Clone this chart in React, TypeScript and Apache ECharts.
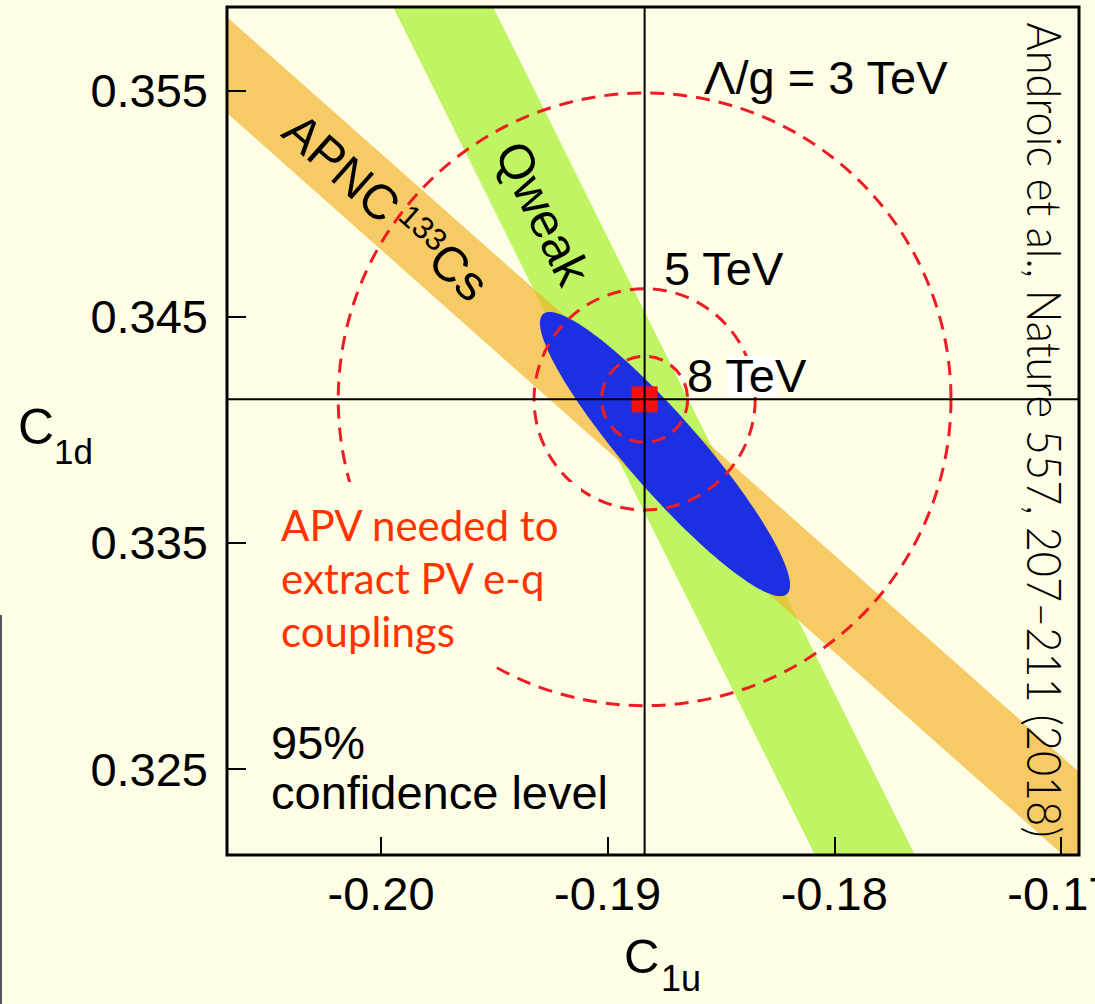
import React, { useEffect, useRef } from "react";
import * as echarts from "echarts";

// ---- axes ----
const xRange = [-0.2068, -0.1692];
const yRange = [0.3212, 0.3587];
const xTicks = [-0.2, -0.19, -0.18, -0.17];
const yTicks = [0.325, 0.335, 0.345, 0.355];

// ---- bands (edges as two points each, data units) ----
const apncUpper = [[-0.2068, 0.35826], [-0.1692, 0.32487]];
const apncLower = [[-0.2068, 0.35401], [-0.1692, 0.32057]];
const qweakLeft = [[-0.19947, 0.3587], [-0.18085, 0.3212]];
const qweakRight = [[-0.19506, 0.3587], [-0.17644, 0.3212]];

// ---- combined fit ellipse (95% CL) ----
const fitCenter = [-0.18747, 0.33893];
const fitMajor = [0.00538, -0.00619];
const fitMinor = [-0.00123, -0.00108];

// ---- Standard Model point and mass-scale circles ----
const smPoint = [-0.18837, 0.34135];
const scaleNames = ["3 TeV", "5 TeV", "8 TeV"];
const scaleRadii = [0.01352, 0.00488, 0.0019];

const BG = "#fefde6";
const ORANGE = "#f6cb66";
const GREEN = "#bff563";
const OVERLAP = "#dfc83c";
const BLUE = "#1c2fe2";
const RED = "#ee1d23";
const GRID = { left: 227, top: 7, width: 852, height: 848 };

const apncPoly = [apncUpper[0], apncUpper[1], apncLower[1], apncLower[0]];
const qweakPoly = [qweakLeft[0], qweakRight[0], qweakRight[1], qweakLeft[1]];

function clipPoly(subject: number[][], clip: number[][]) {
  let area = 0;
  for (let i = 0; i < clip.length; i++) {
    const a = clip[i], b = clip[(i + 1) % clip.length];
    area += a[0] * b[1] - b[0] * a[1];
  }
  const sign = area >= 0 ? 1 : -1;
  let output = subject.slice();
  for (let i = 0; i < clip.length; i++) {
    const a = clip[i], b = clip[(i + 1) % clip.length];
    const inside = (p: number[]) =>
      ((b[0] - a[0]) * (p[1] - a[1]) - (b[1] - a[1]) * (p[0] - a[0])) * sign >= 0;
    const inter = (p: number[], q: number[]) => {
      const d1 = (b[0] - a[0]) * (p[1] - a[1]) - (b[1] - a[1]) * (p[0] - a[0]);
      const d2 = (b[0] - a[0]) * (q[1] - a[1]) - (b[1] - a[1]) * (q[0] - a[0]);
      const t = d1 / (d1 - d2);
      return [p[0] + (q[0] - p[0]) * t, p[1] + (q[1] - p[1]) * t];
    };
    const input = output;
    output = [];
    for (let j = 0; j < input.length; j++) {
      const cur = input[j];
      const prev = input[(j + input.length - 1) % input.length];
      const ci = inside(cur), pi = inside(prev);
      if (ci) {
        if (!pi) output.push(inter(prev, cur));
        output.push(cur);
      } else if (pi) {
        output.push(inter(prev, cur));
      }
    }
    if (!output.length) break;
  }
  return output;
}

function measure(text: string, font: string) {
  const c = document.createElement("canvas").getContext("2d");
  if (!c) return 800;
  c.font = font;
  return c.measureText(text).width;
}

export default function App() {
  const ref = useRef<HTMLDivElement>(null);
  useEffect(() => {
    document.body.style.margin = "0";
    if (!ref.current) return;
    const chart = echarts.init(ref.current, null, { renderer: "svg" });
    const citeText = "Androic et al., Nature 557, 207–211 (2018)";
    const citeFont = "300 48px Lato";
    const citeScale = 815 / measure(citeText, citeFont);

    const polyItem = (pts: number[][], color: string, z: number) => ({
      type: "custom",
      coordinateSystem: "cartesian2d",
      clip: true,
      silent: true,
      z,
      data: [fitCenter],
      renderItem: (_p: any, api: any) => ({
        type: "polygon",
        shape: { points: pts.map((p) => api.coord(p)) },
        style: { fill: color },
      }),
    });

    const option: any = {
      animation: false,
      backgroundColor: BG,
      grid: { ...GRID, containLabel: false, outerBoundsMode: "none" },
      tooltip: { show: false },
      xAxis: {
        type: "value",
        min: xRange[0],
        max: xRange[1],
        z: 10,
        axisLine: { show: false },
        splitLine: { show: false },
        axisTick: {
          show: true,
          inside: true,
          length: 18,
          customValues: xTicks,
          lineStyle: { color: "#000", width: 2 },
        },
        axisLabel: {
          customValues: xTicks,
          formatter: (v: number) => v.toFixed(2),
          fontFamily: "Liberation Sans",
          fontSize: 47,
          color: "#000",
          margin: 15,
        },
      },
      yAxis: {
        type: "value",
        min: yRange[0],
        max: yRange[1],
        z: 10,
        axisLine: { show: false },
        splitLine: { show: false },
        axisTick: {
          show: true,
          inside: true,
          length: 19,
          customValues: yTicks,
          lineStyle: { color: "#000", width: 2 },
        },
        axisLabel: {
          customValues: yTicks,
          formatter: (v: number) => v.toFixed(3),
          fontFamily: "Liberation Sans",
          fontSize: 47,
          color: "#000",
          margin: 19,
        },
      },
      series: [
        polyItem(apncPoly, ORANGE, 1),
        polyItem(qweakPoly, GREEN, 1),
        {
          type: "custom",
          coordinateSystem: "cartesian2d",
          clip: true,
          silent: true,
          z: 1,
          data: [fitCenter],
          renderItem: (_p: any, api: any) => {
            const a = apncPoly.map((p) => api.coord(p));
            const q = qweakPoly.map((p) => api.coord(p));
            const pts = clipPoly(a, q);
            return { type: "polygon", shape: { points: pts }, style: { fill: OVERLAP } };
          },
        },
        {
          type: "custom",
          coordinateSystem: "cartesian2d",
          clip: true,
          silent: true,
          z: 2,
          data: [fitCenter],
          renderItem: (_p: any, api: any) => {
            const c = api.coord(fitCenter);
            const a = api.coord([fitCenter[0] + fitMajor[0], fitCenter[1] + fitMajor[1]]);
            const b = api.coord([fitCenter[0] + fitMinor[0], fitCenter[1] + fitMinor[1]]);
            const M = [a[0] - c[0], a[1] - c[1]];
            const m = [b[0] - c[0], b[1] - c[1]];
            const pts: number[][] = [];
            const n = 160;
            for (let k = 0; k < n; k++) {
              const t = (2 * Math.PI * k) / n;
              pts.push([
                c[0] + Math.cos(t) * M[0] + Math.sin(t) * m[0],
                c[1] + Math.cos(t) * M[1] + Math.sin(t) * m[1],
              ]);
            }
            return { type: "polygon", shape: { points: pts }, style: { fill: BLUE } };
          },
        },
        {
          type: "custom",
          name: "scales",
          coordinateSystem: "cartesian2d",
          clip: true,
          silent: true,
          z: 3,
          data: scaleRadii.map((r, i) => ({ name: scaleNames[i], value: [smPoint[0], smPoint[1], r] })),
          renderItem: (_p: any, api: any) => {
            const c = api.coord([api.value(0), api.value(1)]);
            const r = api.size([api.value(2), 0])[0];
            return {
              type: "circle",
              shape: { cx: c[0], cy: c[1], r },
              style: { fill: "none", stroke: RED, lineWidth: 3, lineDash: [14, 9] },
            };
          },
        },
        {
          type: "scatter",
          z: 4,
          silent: true,
          symbol: "rect",
          symbolSize: 26,
          itemStyle: { color: "#ef1111", opacity: 1 },
          data: [smPoint],
        },
        {
          type: "custom",
          coordinateSystem: "cartesian2d",
          clip: true,
          silent: true,
          z: 6,
          data: [smPoint],
          renderItem: (_p: any, api: any) => {
            const v0 = api.coord([smPoint[0], yRange[0]]);
            const v1 = api.coord([smPoint[0], yRange[1]]);
            const h0 = api.coord([xRange[0], smPoint[1]]);
            const h1 = api.coord([xRange[1], smPoint[1]]);
            return {
              type: "group",
              children: [
                { type: "line", shape: { x1: v0[0], y1: v0[1], x2: v1[0], y2: v1[1] }, style: { stroke: "#000", lineWidth: 2 } },
                { type: "line", shape: { x1: h0[0], y1: h0[1], x2: h1[0], y2: h1[1] }, style: { stroke: "#000", lineWidth: 2 } },
              ],
            };
          },
        },
      ],
      graphic: {
        elements: [
          // white patch behind "TeV" of 8 TeV
          { type: "rect", silent: true, z: 4, shape: { x: 728, y: 356, width: 49, height: 41 }, style: { fill: "#ffffff" } },
          // frame
          { type: "rect", silent: true, z: 20, shape: { x: GRID.left, y: GRID.top, width: GRID.width, height: GRID.height }, style: { fill: "none", stroke: "#000", lineWidth: 3 } },
          // left edge gray line
          { type: "line", silent: true, z: 20, shape: { x1: 1, y1: 615, x2: 1, y2: 1004 }, style: { stroke: "#555", lineWidth: 2 } },
          // APV box
          { type: "rect", silent: true, z: 25, shape: { x: 270, y: 482, width: 311, height: 184 }, style: { fill: BG } },
          { type: "text", silent: true, z: 30, x: 281, y: 525, style: { text: "APV needed to", font: "42px Lato", fill: "#ff3300", align: "left", verticalAlign: "middle" } },
          { type: "text", silent: true, z: 30, x: 281, y: 578, style: { text: "extract PV e-q", font: "42px Lato", fill: "#ff3300", align: "left", verticalAlign: "middle" } },
          { type: "text", silent: true, z: 30, x: 281, y: 631, style: { text: "couplings", font: "42px Lato", fill: "#ff3300", align: "left", verticalAlign: "middle" } },
          // scale labels
          { type: "text", silent: true, z: 30, x: 704, y: 77, style: { text: "Λ/g = " + scaleNames[0], font: "47px 'Liberation Sans'", fill: "#000", align: "left", verticalAlign: "middle" } },
          { type: "text", silent: true, z: 30, x: 664, y: 268, style: { text: scaleNames[1], font: "47px 'Liberation Sans'", fill: "#000", align: "left", verticalAlign: "middle" } },
          { type: "text", silent: true, z: 30, x: 687, y: 375, style: { text: scaleNames[2], font: "47px 'Liberation Sans'", fill: "#000", align: "left", verticalAlign: "middle" } },
          // CL label
          { type: "text", silent: true, z: 30, x: 271, y: 742, style: { text: "95%", font: "47px 'Liberation Sans'", fill: "#000", align: "left", verticalAlign: "middle" } },
          { type: "text", silent: true, z: 30, x: 271, y: 792, style: { text: "confidence level", font: "47px 'Liberation Sans'", fill: "#000", align: "left", verticalAlign: "middle" } },
          // band labels
          {
            type: "text", silent: true, z: 30, x: 386, y: 207, rotation: (-41.6 * Math.PI) / 180,
            style: {
              text: "{a|APNC}{s|133}{a|Cs}",
              align: "center", verticalAlign: "middle",
              rich: {
                a: { fontSize: 49, fontFamily: "Liberation Sans", fill: "#000" },
                s: { fontSize: 31, fontFamily: "Liberation Sans", fill: "#000", verticalAlign: "top", padding: [0, 0, 0, 7] },
              },
            },
          },
          {
            type: "text", silent: true, z: 30, x: 543, y: 213, rotation: (-63.5 * Math.PI) / 180,
            style: { text: "Qweak", font: "49px 'Liberation Sans'", fill: "#000", align: "center", verticalAlign: "middle" },
          },
          // citation
          {
            type: "text", silent: true, z: 30, x: 1045, y: 430, rotation: -Math.PI / 2, scaleX: citeScale,
            style: { text: citeText, font: citeFont, fill: "#000", align: "center", verticalAlign: "middle" },
          },
          // axis names
          { type: "text", silent: true, z: 30, x: 624, y: 956, style: { text: "C", font: "49px 'Liberation Sans'", fill: "#000", align: "left", verticalAlign: "middle" } },
          { type: "text", silent: true, z: 30, x: 661, y: 978, style: { text: "1u", font: "36px 'Liberation Sans'", fill: "#000", align: "left", verticalAlign: "middle" } },
          { type: "text", silent: true, z: 30, x: 18, y: 427, style: { text: "C", font: "50px 'Liberation Sans'", fill: "#000", align: "left", verticalAlign: "middle" } },
          { type: "text", silent: true, z: 30, x: 54, y: 451, style: { text: "1d", font: "35px 'Liberation Sans'", fill: "#000", align: "left", verticalAlign: "middle" } },
        ],
      },
    };
    chart.setOption(option);
    return () => chart.dispose();
  }, []);
  return (
    <div
      ref={ref}
      style={{ position: "fixed", left: 0, top: 0, width: 1095, height: 1004 }}
    />
  );
}
